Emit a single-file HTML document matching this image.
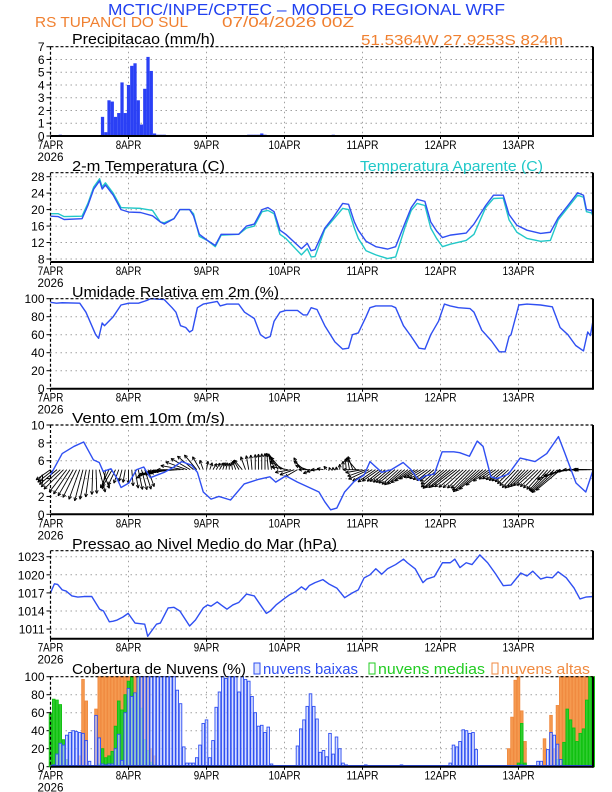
<!DOCTYPE html>
<html><head><meta charset="utf-8"><style>
html,body{margin:0;padding:0;background:#fff;}
svg{display:block;font-family:"Liberation Sans",sans-serif;}
</style></head><body>
<svg id="chart" width="612" height="792" viewBox="0 0 612 792" xmlns="http://www.w3.org/2000/svg">
<text x="108" y="15" font-size="16" fill="#2040f0" textLength="397" lengthAdjust="spacingAndGlyphs">MCTIC/INPE/CPTEC – MODELO REGIONAL WRF</text>
<text x="35" y="27" font-size="15" fill="#f08030" textLength="153" lengthAdjust="spacingAndGlyphs">RS TUPANCI DO SUL</text>
<text x="222" y="27" font-size="15" fill="#f08030" textLength="132" lengthAdjust="spacingAndGlyphs">07/04/2026 00Z</text>
<text x="361" y="45" font-size="15" fill="#f08030" textLength="202" lengthAdjust="spacingAndGlyphs">51.5364W 27.9253S 824m</text>
<g id="plots"></g>
</svg>
<script>
// ---------- data ----------
const dayLabels = ["7APR","8APR","9APR","10APR","11APR","12APR","13APR"];
const yearLabel = "2026";

const precipHours = [3,16,17,18,19,20,21,22,23,24,25,26,27,28,29,30,31,32,33,34,35,61,62,63,64,65,66,87];
const precipVals  = [0.1,1.5,0.3,2.8,2.7,1.5,1.8,4.2,1.8,4.0,5.5,5.7,2.8,0.9,3.7,6.2,5.1,0.2,0.1,0.1,0.1,0.1,0.1,0.1,0.1,0.2,0.1,0.1];

const tempHours = [0,2.4,4.2,9.7,11.5,13.3,15.1,15.9,16.9,19.3,21.7,24.1,27.7,31.4,33.8,35,38,39.8,42.8,44,45.8,48.3,50.7,52.5,57.9,60.3,62.7,65.1,66.9,68.8,70.6,72.4,77.2,79,80.2,81.4,84.4,86.9,89.9,91.7,93.5,94.7,97.1,100.1,103.7,106.2,109.2,111,112.8,115.2,117,118.8,120.6,123,127.9,130.3,133.9,136.3,139.3,141.1,143.5,146.6,150.8,153.8,156.2,159.2,162.2,164,164.9,166.5,167];
const tempVals = [18.4,18.3,17.6,17.8,21,25,27,25,26,23.5,20,19.4,19.3,18.5,17,16.5,17.8,20,20,18.5,14,12.5,11.3,14,14,16,16.5,20,20.5,19.5,15,14,10.5,11.8,10,10.3,15.5,18,21.5,21.3,17,15,12.3,11,10.4,11,17,20.5,22.5,22,17,14.8,13.2,13.8,14.3,16.5,21,23.5,23.5,18.8,16.2,15,14.2,14.5,18,21,24.1,23.5,20,19.8,18.5];
const apparentVals = [19,19,18.3,18.4,21.5,25.5,27.5,25.5,26.5,24,20.5,20.4,20.3,19.8,17,16.8,17.8,20,20,19,13.5,12.5,11,13.8,14,15.5,16,19.5,19.8,19,14,13,9,10.5,8.5,8.6,15.2,17.5,20.3,20,15.5,13,10,9,8.1,8.5,16,19.8,21.5,21,15.5,13,11,11.6,12.5,14,20.5,22.7,22.8,17.5,14.5,13,12.3,12.5,17.5,20.5,23.5,23,19.5,19.2,18.2];

const rhHours = [0,1.8,3.6,9,10.9,13.9,14.8,15.9,16.6,19.3,21.7,24.1,27.1,29.6,30.8,35,37.4,38.6,40,41.6,42.8,43.7,45.2,47,51.3,52.2,54.3,57.9,59.7,62.7,64.6,66.2,67.6,68.8,70.6,72.4,76,77.8,79,80.2,82,84.4,87.5,89.9,91.7,92.9,94.7,97.1,98.3,100.1,104.9,106.2,108.6,111,113.4,115.2,117,119.4,121.2,123,125.5,129.1,130.3,132.7,135.7,138.1,139.9,141.1,141.7,144.1,146.6,150.8,154.4,156.8,159.2,161.6,164,165.3,166.1,167];
const rhVals = [96,95,95.5,95,85,60,56,73,70,80,93,95,95,98,100,99,90,85,70,68,63,65,90,94,97,92,94,94,85,78,60,56,58,75,85,87,87,82,82,90,88,70,52,44,45,60,62,80,90,92,92,90,70,58,45,44,60,75,94,92,90,89,85,65,53,41,41,58,60,93,94,93,91,68,60,48,42,63,59,77];

const windHours = [0,3.6,7.2,10.2,13.2,15,16.2,18.6,20.5,21.7,24.1,26.5,28.7,30.7,35,38,40.4,43.4,45.2,47,49.4,51.8,55.4,59.6,63.9,67.5,69.3,72.4,76,79.6,82.6,84.4,86.2,88.1,90.5,93.5,96.5,98.3,101.9,104.9,108.5,110.9,113.3,115.1,118.1,120.5,124.1,125.9,128.9,131.3,133.1,135.5,137.3,140.9,144.5,149.1,152.7,156.3,158.1,161.7,164.7,167];
const windSpeed = [4.4,6.8,7.6,8.1,6.1,5.8,4.8,5.1,4.0,3.0,3.5,5.0,5.3,4.1,4.7,5.3,5.9,5.5,4.7,2.5,1.7,2.0,1.6,3.4,3.9,4.2,3.6,4.3,3.6,3.0,2.5,1.4,0.5,0.7,2.5,3.7,4.4,5.9,4.7,5.0,5.8,5.0,3.8,4.3,4.5,7.0,7.0,6.9,6.5,8.2,7.6,4.2,4.0,4.5,6.3,5.9,6.8,8.7,7.0,3.5,2.5,5.0];
// hourly arrow pointing direction (degrees, 0=east, 90=north)
const windDir = [215,218,220,222,225,232,236,240,244,250,255,258,262,268,272,285,290,260,245,240,245,250,255,260,270,275,280,282,285,288,290,210,200,195,195,195,190,190,185,185,180,170,160,150,140,130,120,110,80,70,60,60,60,70,80,90,100,110,120,130,110,100,95,90,90,90,90,95,100,110,120,130,150,170,190,200,210,120,140,160,180,200,190,180,170,130,110,100,95,90,90,95,100,110,130,180,190,200,205,210,215,215,218,218,220,220,220,222,222,220,218,215,212,210,210,212,215,218,220,222,222,222,220,220,218,218,220,222,224,225,225,224,222,220,218,216,215,215,218,220,220,222,224,226,228,228,226,224,222,222,224,226,228,228,226,224,222,220,200,195,190,185,180,180,180,180,180,180];

const presHours = [0,1.2,2.2,3.6,4.8,6.6,8.4,10.3,12.7,15.1,16.3,18.1,19.3,20.5,22.3,23.9,26,29,29.9,32.6,33.8,36.2,38,39.8,42.8,44.6,47,48.3,49.4,51.3,52.5,54.3,56.1,57.9,60.3,62.7,64.6,66.4,67.6,69.4,71.8,73.6,75.4,77.2,78.5,79.6,81.4,83.8,85.6,88.1,90.5,92.9,94.7,96.5,98.3,100.1,101.9,103.7,106.2,108.6,109.8,112.2,114.6,115.8,118.1,120.6,123,124.4,126,127.9,129.7,132.1,134.5,136.9,139.3,141.7,144.7,146.6,148.4,150.8,152.7,154.4,156.2,158.7,161.1,162.9,164.7,167];
const presVals = [1017,1018.5,1018.4,1017.5,1017.3,1016.5,1016.3,1016.4,1016.4,1014.3,1014,1012.2,1012.3,1012.5,1013,1013.6,1012,1011.8,1009.8,1011.8,1012,1014.5,1014.6,1014,1011.5,1012.5,1014.5,1015,1014.8,1015.5,1015,1014.3,1015,1015.4,1016.8,1016.5,1015,1013.6,1014,1015,1016,1016.7,1017.2,1018,1017.5,1018.2,1018.7,1019.2,1018.5,1017.8,1016.2,1017,1017.5,1019.5,1020,1021,1020.1,1021,1021.7,1022.6,1022,1021,1018.7,1019.3,1019.7,1022,1022,1022.6,1021.2,1022,1021.7,1023.3,1022,1020.2,1018.2,1018.3,1020.3,1019.8,1020.6,1019.3,1019.6,1019.5,1020.5,1019.5,1017.8,1016,1016.3,1016.4];

// cloud cover: hours with non-zero values and their percentages
const lowHours = [1,2,3,4,5,6,7,8,9,10,11,12,14,15,16,17,18,19,20,21,22,23,24,25,26,27,28,29,30,31,32,33,34,35,36,37,38,39,40,41,42,43,44,45,46,47,48,49,50,51,52,53,54,55,56,57,58,59,60,61,62,63,64,65,66,67,68,72,74,76,77,78,79,80,81,82,83,84,85,86,87,88,89,90,91,92,97,107,108,123,124,125,126,127,128,129,130,131,145,150,151,153,154,155,156,157];
const lowVals  = [2,14,26,24,35,38,40,39,38,37,29,6,57,32,3,2,3,3,20,36,7,60,87,78,82,100,100,100,100,100,100,100,100,100,100,100,100,85,70,22,4,4,4,10,24,48,52,10,29,66,83,100,98,100,100,100,83,100,97,95,78,60,45,46,38,44,3,1,1,23,42,52,67,81,67,53,16,18,11,37,14,33,20,4,2,1,2,1,2,4,24,22,28,41,40,37,38,19,2,6,6,19,38,35,25,8];
const midHours = [0,1,2,3,4,5,15,16,17,18,19,20,21,22,23,24,25,26,27,28,29,30,31,32,33,144,145,146,156,158,159,160,161,162,163,164,165,166,167];
const midVals  = [59,75,74,69,30,8,3,20,10,12,17,45,73,63,80,95,100,80,100,65,30,18,5,2,1,4,48,4,8,27,64,52,43,28,37,42,74,100,100];
const highHours = [9,10,11,14,15,16,17,18,19,20,21,22,23,24,25,26,27,28,29,30,31,32,141,142,143,144,145,146,152,154,155,156,157,158,159,160,161,162,163,164,165,166,167];
const highVals  = [12,97,73,64,100,100,100,100,100,100,100,100,100,100,100,100,100,100,100,100,20,12,20,55,96,100,62,28,31,57,20,68,100,100,100,100,100,100,100,100,100,100,100];

// ---------- helpers ----------
const NS = "http://www.w3.org/2000/svg";
const root = document.getElementById("plots");
const X0 = 50.5, HPX = 3.25, XR = 593;
function xH(h){ return X0 + h*HPX; }
function mk(tag, attrs, parent){
  const e = document.createElementNS(NS, tag);
  for (const k in attrs) e.setAttribute(k, attrs[k]);
  (parent||root).appendChild(e);
  return e;
}
function makeY(p){ return v => p.bot - (v - p.min)/(p.max - p.min)*(p.bot - p.top); }

function frame(p, ticks, name, showYear){
  const g = mk("g", {});
  
  
  const y = makeY(p);
  for (let d=1; d<7; d++){
    const gl = mk("line", {x1:xH(d*24), x2:xH(d*24), y1:p.top, y2:p.bot, stroke:"#a0a0a0", "stroke-width":1, "stroke-dasharray":"1.5 3.5"}, g);
    
    
  }
  ticks.forEach(t=>{
    const yy = y(t);
    if (yy > p.top+1 && yy < p.bot-1){
      const gl = mk("line", {x1:X0, x2:XR, y1:yy, y2:yy, stroke:"#a0a0a0", "stroke-width":1, "stroke-dasharray":"1.5 3.5"}, g);
      
      
    }
    const tk = mk("line", {x1:X0-4, x2:X0, y1:yy, y2:yy, stroke:"#000", "stroke-width":1}, g);
    
    
    const lb = mk("text", {x:X0-6, y:yy+4.5, "font-size":12, "text-anchor":"end", fill:"#000"}, g);
    
    
    lb.textContent = t;
  });
  dayLabels.forEach((lab,i)=>{
    const tx = xH(i*24);
    const tk = mk("line", {x1:tx, x2:tx, y1:p.bot, y2:p.bot+3, stroke:"#000", "stroke-width":1}, g);
    
    
    const lb = mk("text", {x:tx, y:p.bot+13, "font-size":12, "text-anchor":"middle", fill:"#000", textLength: lab.length*6.4, lengthAdjust:"spacingAndGlyphs"}, g);
    
    
    lb.textContent = lab;
  });
  if (showYear){
    const yl = mk("text", {x:xH(0), y:p.bot+25, "font-size":12, "text-anchor":"middle", fill:"#000", textLength:26, lengthAdjust:"spacingAndGlyphs"}, g);
    
    
    yl.textContent = yearLabel;
  }
  return {g, y};
}
function border(p, g){
  const a = mk("line", {x1:X0, x2:XR, y1:p.top, y2:p.top, stroke:"#000", "stroke-width":1.2, "stroke-dasharray":"3 2"}, g);
   
  const b = mk("line", {x1:X0, x2:X0, y1:p.top, y2:p.bot, stroke:"#000", "stroke-width":1.2, "stroke-dasharray":"3 2"}, g);
   
  const c = mk("line", {x1:XR, x2:XR, y1:p.top, y2:p.bot+1, stroke:"#000", "stroke-width":2}, g);
   
  const d = mk("line", {x1:X0, x2:XR, y1:p.bot, y2:p.bot, stroke:"#000", "stroke-width":2}, g);
   
}
function title(txt, x, yb, w, color, name){
  const t = mk("text", {x:x, y:yb, "font-size":15, fill:color, textLength:w, lengthAdjust:"spacingAndGlyphs"});
  
  
  t.textContent = txt;
  return t;
}
function linePath(hours, vals, y, color, g, name, w){
  let d = "";
  hours.forEach((h,i)=>{ d += (i? "L":"M") + xH(h).toFixed(2) + "," + y(vals[i]).toFixed(2); });
  const p = mk("path", {d:d, fill:"none", stroke:color, "stroke-width":w||1.4, "stroke-linejoin":"round"}, g);
  
  
}
function interp(hours, vals, h){
  for (let i=1;i<hours.length;i++){
    if (h <= hours[i]){ const t=(h-hours[i-1])/(hours[i]-hours[i-1]); return vals[i-1]+t*(vals[i]-vals[i-1]); }
  }
  return vals[vals.length-1];
}

// ---------- panel 1: precipitation ----------
const P1 = {top:46.7, bot:136, min:0, max:7};
title("Precipitacao (mm/h)", 72, 44, 143, "#000", "precip-title");
const f1 = frame(P1, [0,1,2,3,4,5,6,7], "precip", true);
precipHours.forEach((h,i)=>{
  const v = precipVals[i];
  const r = mk("rect", {x:xH(h)-1.6, y:f1.y(v), width:3.25, height:P1.bot - f1.y(v), fill:"#2a40f5"}, f1.g);
  
  
});
border(P1, f1.g);

// ---------- panel 2: temperature ----------
const P2 = {top:172.7, bot:262, min:7.27, max:28.97};
title("2-m Temperatura (C)", 72, 171, 153, "#000", "temp-title");
title("Temperatura Aparente (C)", 360, 171, 183, "#20c8c8", "apparent-temp-legend");
const f2 = frame(P2, [8,12,16,20,24,28], "temperature", true);
linePath(tempHours, apparentVals, f2.y, "#22c8c8", f2.g, "apparent-temp-line");
linePath(tempHours, tempVals, f2.y, "#2f4ff2", f2.g, "temp-line");
border(P2, f2.g);

// ---------- panel 3: relative humidity ----------
const P3 = {top:298.7, bot:388.7, min:0, max:100};
title("Umidade Relativa em 2m (%)", 72, 297, 207, "#000", "rh-title");
const f3 = frame(P3, [0,20,40,60,80,100], "humidity", true);
linePath(rhHours, rhVals, f3.y, "#2f4ff2", f3.g, "rh-line");
border(P3, f3.g);

// ---------- panel 4: wind ----------
const P4 = {top:425, bot:514.3, min:0, max:10};
title("Vento em 10m (m/s)", 72, 423, 153, "#000", "wind-title");
const f4 = frame(P4, [0,2,4,6,8,10], "wind", true);
const yBase = f4.y(5);
windDir.forEach((dir,h)=>{
  const spd = interp(windHours, windSpeed, h);
  const L = spd*4.0;
  const a = dir*Math.PI/180;
  const x1 = xH(h), y1 = yBase;
  const x2 = x1 + L*Math.cos(a), y2 = y1 - L*Math.sin(a);
  const ar = mk("g", {}, f4.g);
  
  
  mk("line", {x1:x1, y1:y1, x2:x2, y2:y2, stroke:"#000", "stroke-width":0.9}, ar);
  const hl = 3.5;
  [a+Math.PI-0.45, a+Math.PI+0.45].forEach(b=>{
    mk("line", {x1:x2, y1:y2, x2:x2+hl*Math.cos(b), y2:y2-hl*Math.sin(b), stroke:"#000", "stroke-width":0.9}, ar);
  });
});
linePath(windHours, windSpeed, f4.y, "#2f4ff2", f4.g, "wind-speed-line");
border(P4, f4.g);

// ---------- panel 5: pressure ----------
const P5 = {top:550.7, bot:638.7, min:1009.4, max:1024};
title("Pressao ao Nivel Medio do Mar (hPa)", 72, 549, 265, "#000", "pressure-title");
const f5 = frame(P5, [1011,1014,1017,1020,1023], "pressure", true);
linePath(presHours, presVals, f5.y, "#2f4ff2", f5.g, "pressure-line");
border(P5, f5.g);

// ---------- panel 6: cloud cover ----------
const P6 = {top:676.7, bot:766.7, min:0, max:100};
title("Cobertura de Nuvens (%)", 72, 674, 174, "#000", "cloud-title");
const legendItems = [
  {label:"nuvens baixas", x:254, w:104, stroke:"#2f4ff2", fill:"#dde3ff"},
  {label:"nuvens medias", x:369, w:116, stroke:"#22cc22", fill:"#ffffff"},
  {label:"nuvens altas", x:492, w:98, stroke:"#f08a40", fill:"#ffffff"}
];
legendItems.forEach(it=>{
  const g = mk("g", {});
  
  
  mk("rect", {x:it.x, y:663, width:6, height:11, fill:it.fill, stroke:it.stroke, "stroke-width":1}, g);
  const t = mk("text", {x:it.x+9, y:674, "font-size":15, fill:it.stroke, textLength:it.w-9, lengthAdjust:"spacingAndGlyphs"}, g);
  t.textContent = it.label;
});
const f6 = frame(P6, [0,20,40,60,80,100], "cloud", true);
function cloudBars(hours, vals, fill, stroke, name, op){
  hours.forEach((h,i)=>{
    const yy = f6.y(vals[i]);
    const r = mk("rect", {x:xH(h)-1.3, y:yy, width:2.6, height:Math.max(P6.bot-yy,0.01), fill:fill, "fill-opacity":op, stroke:stroke, "stroke-width":0.9}, f6.g);
    
    
  });
}
cloudBars(highHours, highVals, "#f59a50", "#f08a40", "high-cloud-bar", 1);
cloudBars(midHours, midVals, "#30cc30", "#10c010", "mid-cloud-bar", 1);
cloudBars(lowHours, lowVals, "#c8d2ff", "#2f4ff2", "low-cloud-bar", 0.7);
const zl = mk("line", {x1:X0, x2:XR, y1:P6.bot-1, y2:P6.bot-1, stroke:"#2f4ff2", "stroke-width":1.5}, f6.g);


border(P6, f6.g);
</script>
</body></html>
